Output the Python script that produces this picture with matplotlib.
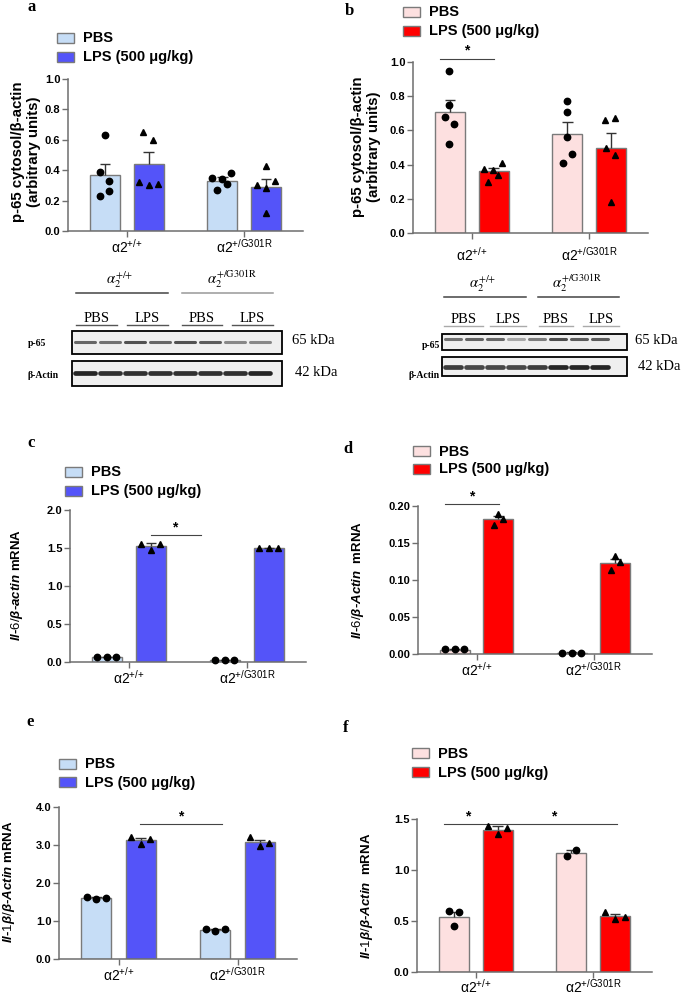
import numpy as np
import matplotlib
matplotlib.use('Agg')
import matplotlib.pyplot as plt
from matplotlib.patches import Rectangle
from matplotlib.ticker import FormatStrFormatter

plt.rcParams['font.family'] = ['Liberation Sans', 'DejaVu Sans']
plt.rcParams['mathtext.fontset'] = 'custom'
plt.rcParams['mathtext.rm'] = 'Liberation Sans'
plt.rcParams['mathtext.it'] = 'Liberation Sans:italic:bold'
plt.rcParams['mathtext.bf'] = 'Liberation Sans:bold'

# ---------------- data ----------------
genotypes = ['+/+', '+/G301R']
treatments = ['PBS', 'LPS (500 μg/kg)']

# a: p-65 cytosol / beta-actin
a_pbs = [0.37, 0.33]
a_pbs_sem = [0.07, 0.025]
a_lps = [0.44, 0.29]
a_lps_sem = [0.08, 0.05]
a_pbs_pts = [[0.63, 0.39, 0.33, 0.26, 0.23], [0.35, 0.34, 0.38, 0.31, 0.27]]
a_lps_pts = [[0.65, 0.60, 0.32, 0.30, 0.31], [0.43, 0.33, 0.30, 0.28, 0.12]]

# b: p-65 cytosol / beta-actin
b_pbs = [0.705, 0.58]
b_pbs_sem = [0.075, 0.07]
b_lps = [0.36, 0.495]
b_lps_sem = [0.02, 0.09]
b_pbs_pts = [[0.95, 0.75, 0.68, 0.64, 0.52], [0.77, 0.71, 0.56, 0.46, 0.41]]
b_lps_pts = [[0.375, 0.366, 0.412, 0.337, 0.296], [0.66, 0.673, 0.496, 0.455, 0.183]]

# c: Il-6 mRNA
c_pbs = [0.065, 0.025]
c_pbs_sem = [0.004, 0.003]
c_lps = [1.525, 1.50]
c_lps_sem = [0.035, 0.006]
c_pbs_pts = [[0.07, 0.07, 0.07], [0.03, 0.03, 0.03]]
c_lps_pts = [[1.55, 1.47, 1.55], [1.50, 1.50, 1.50]]

# d: Il-6 mRNA
d_pbs = [0.006, 0.002]
d_pbs_sem = [0.0005, 0.0002]
d_lps = [0.182, 0.1225]
d_lps_sem = [0.005, 0.0065]
d_pbs_pts = [[0.007, 0.007, 0.007], [0.002, 0.002, 0.002]]
d_lps_pts = [[0.175, 0.189, 0.182], [0.113, 0.132, 0.124]]

# e: Il-1b mRNA
e_pbs = [1.60, 0.77]
e_pbs_sem = [0.02, 0.012]
e_lps = [3.13, 3.07]
e_lps_sem = [0.06, 0.07]
e_pbs_pts = [[1.64, 1.58, 1.61], [0.79, 0.75, 0.78]]
e_lps_pts = [[3.22, 3.03, 3.16], [3.20, 2.97, 3.05]]

# f: Il-1b mRNA
f_pbs = [0.542, 1.167]
f_pbs_sem = [0.05, 0.033]
f_lps = [1.39, 0.546]
f_lps_sem = [0.04, 0.022]
f_pbs_pts = [[0.60, 0.59, 0.45], [1.14, 1.20]]
f_lps_pts = [[1.43, 1.35, 1.41], [0.59, 0.52, 0.54]]

# western blot band intensities (0 = blank, 1 = black), 8 lanes
a_p65_bands = [0.70, 0.65, 0.80, 0.70, 0.80, 0.75, 0.55, 0.55]
a_actin_bands = [0.95, 0.90, 0.90, 0.90, 0.90, 0.90, 0.90, 0.95]
b_p65_bands = [0.65, 0.72, 0.70, 0.40, 0.60, 0.82, 0.75, 0.75]
b_actin_bands = [0.85, 0.80, 0.80, 0.80, 0.85, 0.95, 0.95, 0.95]
lane_labels = ['PBS', 'LPS', 'PBS', 'LPS']

# ---------------- style / layout ----------------
W, H = 685, 994
BLUE_PBS, BLUE_LPS = '#c6ddf6', '#5454f9'
PINK_PBS, RED_LPS = '#fde0e0', '#ff0000'
EDGE = '#7a7a7a'
SPINE = '#6e6e6e'
BW, OFF = 0.254, 0.186
CAP = 0.045

J5 = {'a': ([[0, -0.042, 0.037, 0.037, -0.042], [-0.085, -0.006, 0.076, 0.04, -0.042]],
            [[-0.045, 0.037, -0.082, 0, 0.082], [0, 0.079, -0.079, 0, 0]]),
      'b': ([[-0.011, -0.006, -0.045, 0.037, -0.006], [0, -0.003, 0, 0.04, -0.04]],
            [[-0.085, -0.006, 0.074, 0.034, -0.045], [-0.048, 0.034, -0.045, 0.034, -0.003]])}
J3 = [-0.082, 0, 0.08]

fig = plt.figure(figsize=(W / 100, H / 100), dpi=100)
ov = fig.add_axes([0, 0, 1, 1], zorder=10)
ov.set_xlim(0, W)
ov.set_ylim(H, 0)
ov.axis('off')


def px_ax(left, top, right, bottom):
    return fig.add_axes([left / W, 1 - bottom / H, (right - left) / W, (bottom - top) / H])


def tick_lab(g):
    return r'$\mathrm{\alpha 2}^{\mathrm{' + g.replace('+', '{+}') + '}}$'


def bar_panel(box, ymax, ystep, fmt, pbs, pbs_sem, lps, lps_sem, pbs_pts, lps_pts,
              pbs_jit, lps_jit, c_pbs, c_lps, xpad=1):
    ax = px_ax(*box)
    x = np.arange(len(genotypes))
    series = [(-OFF, pbs, pbs_sem, pbs_pts, pbs_jit, c_pbs, 'o'),
              (OFF, lps, lps_sem, lps_pts, lps_jit, c_lps, '^')]
    for off, mean, sem, pts, jit, col, mk in series:
        xs = x + off
        top = np.array(mean) + np.array(sem)
        ax.bar(xs, mean, BW, color=col, edgecolor=EDGE, linewidth=1, zorder=2)
        ax.vlines(xs, mean, top, color='#333333', lw=1, zorder=3)
        ax.hlines(top, xs - CAP, xs + CAP, color='#333333', lw=1, zorder=3)
        for xi, p, j in zip(xs, pts, jit):
            ax.plot(xi + np.array(j[:len(p)]), p, mk, color='black', ms=4.6 if mk == 'o' else 5,
                    ls='none', zorder=4, clip_on=False)
    ax.set_xlim(-0.5, 1.5)
    ax.set_ylim(0, ymax)
    ax.set_yticks(np.arange(0, ymax + ystep / 2, ystep))
    ax.yaxis.set_major_formatter(FormatStrFormatter(fmt))
    ax.set_xticks(x)
    ax.set_xticklabels([tick_lab(g) for g in genotypes])
    for s in ['top', 'right']:
        ax.spines[s].set_visible(False)
    for s in ['left', 'bottom']:
        ax.spines[s].set_color(SPINE)
        ax.spines[s].set_linewidth(1.1)
    ax.tick_params(axis='y', length=4, width=1, color=SPINE, labelsize=8, pad=1.5)
    ax.tick_params(axis='x', length=4, width=1, color=SPINE, labelsize=10, pad=xpad)
    for lbl in ax.get_yticklabels():
        lbl.set_fontweight('bold')
    ax.set_facecolor('none')
    return ax


def sig(ax, x0, x1, y, stars):
    ax.plot([x0, x1], [y, y], color='#444444', lw=0.8, clip_on=False)
    for xs in stars:
        ax.annotate('*', (xs, y), xytext=(0, 0.5), textcoords='offset points', ha='center',
                    va='bottom', fontsize=10, fontweight='bold', annotation_clip=False)


def legend(x0, y0, pitch, cols):
    for i, (lab, col) in enumerate(zip(treatments, cols)):
        ov.add_patch(Rectangle((x0, y0 + i * pitch), 17, 10, facecolor=col, edgecolor=EDGE, lw=1))
        ov.text(x0 + 26, y0 + i * pitch + 5.5, lab, fontsize=10.5, fontweight='bold',
                ha='left', va='center')


def letter(x, y, s):
    ov.text(x, y, s, fontfamily='Liberation Serif', fontweight='bold', fontsize=12,
            ha='left', va='baseline')


def ylab(x, y, s, size=9.5):
    ov.text(x, y, s, rotation=90, fontsize=size, fontweight='bold', ha='center', va='center',
            linespacing=1.1)


def blot(x0, x1, p_box, a_box, lanes, bw, p_int, a_int, p_y, a_y, gen_x, gen_y, gen_lines,
         lane_segs, lane_y, under_y, under_col, lab_x, p_lab_y, a_lab_y, kda_x, kda_y, ha_lab):
    # genotype headers
    for gx, g in zip(gen_x, genotypes):
        ov.text(gx, gen_y, r'$\alpha_2^{' + g.replace('+', '{+}').replace('G301R', r'\mathrm{G301R}') + '}$',
                math_fontfamily='stix', fontsize=10.5, ha='center', va='baseline')
    for (lx0, lx1), col in gen_lines:
        ov.plot([lx0, lx1], [gen_y + 9, gen_y + 9], color=col, lw=1.1)
    for (sx0, sx1), lab in zip(lane_segs, lane_labels):
        ov.text((sx0 + sx1) / 2, lane_y, lab, fontfamily='Liberation Serif', fontsize=10.5,
                ha='center', va='baseline')
        ov.plot([sx0, sx1], [under_y, under_y], color=under_col, lw=1)
    for (by0, by1) in (p_box, a_box):
        ov.add_patch(Rectangle((x0, by0), x1 - x0, by1 - by0, facecolor='#efefef',
                               edgecolor='black', lw=1.3))
    for lx, pi, ai in zip(lanes, p_int, a_int):
        ov.plot([lx - bw / 2, lx + bw / 2], [p_y, p_y], color=str(1 - 0.85 * pi), lw=2.2,
                solid_capstyle='round')
        ov.plot([lx - bw / 2, lx + bw / 2], [a_y, a_y], color=str(1 - 0.9 * ai), lw=3.4,
                solid_capstyle='round')
    ov.text(lab_x, p_lab_y, 'p-65', fontfamily='Liberation Serif', fontweight='bold',
            fontsize=7, ha=ha_lab, va='center')
    ov.text(lab_x, a_lab_y, 'β-Actin', fontfamily='Liberation Serif', fontweight='bold',
            fontsize=7, ha=ha_lab, va='center')
    ov.text(kda_x[0], kda_y[0], '65 kDa', fontfamily='Liberation Serif', fontsize=10.5,
            ha='left', va='center')
    ov.text(kda_x[1], kda_y[1], '42 kDa', fontfamily='Liberation Serif', fontsize=10.5,
            ha='left', va='center')


# ---------------- panel a ----------------
letter(28, 11, 'a')
legend(57, 33, 19, [BLUE_PBS, BLUE_LPS])
bar_panel((68, 79, 303, 231), 1.0, 0.2, '%.1f', a_pbs, a_pbs_sem, a_lps, a_lps_sem,
          a_pbs_pts, a_lps_pts, J5['a'][0], J5['a'][1], BLUE_PBS, BLUE_LPS)
ylab(26, 152, 'p-65 cytosol/β-actin\n(arbitrary units)', 10.8)
blot(72, 282, (331, 354), (361, 386), np.linspace(85, 260, 8), 20, a_p65_bands, a_actin_bands,
     342, 373, [120, 232], 284, [((76, 168), '#444444'), ((182, 273), '#999999')],
     [(76, 117), (127, 168), (182, 222), (232, 273)], 322, 325, '#555555',
     28, 343, 376, (292, 295), (340, 373), 'left')

# ---------------- panel b ----------------
letter(345, 15, 'b')
legend(403, 7, 19, [PINK_PBS, RED_LPS])
axb = bar_panel((413, 62, 648, 233), 1.0, 0.2, '%.1f', b_pbs, b_pbs_sem, b_lps, b_lps_sem,
                b_pbs_pts, b_lps_pts, J5['b'][0], J5['b'][1], PINK_PBS, RED_LPS, xpad=5)
sig(axb, -0.27, 0.19, 1.02, [-0.04])
ylab(366, 147, 'p-65 cytosol/β-actin\n(arbitrary units)', 10.8)
blot(442, 627, (334, 350), (357, 376), np.linspace(453, 600, 8), 16, b_p65_bands, b_actin_bands,
     339, 367, [483, 577], 288, [((444, 526), '#444444'), ((538, 619), '#444444')],
     [(444, 483), (490, 526), (539, 573), (583, 619)], 323, 326, '#aaaaaa',
     440, 345, 375, (635, 638), (340, 367), 'right')

# ---------------- panel c ----------------
letter(27, 447, 'c')
legend(65, 467, 19, [BLUE_PBS, BLUE_LPS])
axc = bar_panel((70, 510, 306, 662), 2.0, 0.5, '%.1f', c_pbs, c_pbs_sem, c_lps, c_lps_sem,
                c_pbs_pts, c_lps_pts, [J3, J3], [J3, J3], BLUE_PBS, BLUE_LPS)
sig(axc, 0.19, 0.61, 1.67, [0.39])
ylab(17, 585, r'$\mathit{Il}$-$\mathit{6/\beta}$-$\mathit{actin}$ mRNA')

# ---------------- panel d ----------------
letter(343, 453, 'd')
legend(413, 446, 18, [PINK_PBS, RED_LPS])
axd = bar_panel((418, 506, 652, 654), 0.20, 0.05, '%.2f', d_pbs, d_pbs_sem, d_lps, d_lps_sem,
                d_pbs_pts, d_lps_pts, [J3, J3], [[-0.04, 0, 0.04], [-0.037, 0, 0.042]],
                PINK_PBS, RED_LPS)
sig(axd, -0.27, 0.19, 0.203, [-0.04])
ylab(358, 580, r'$\mathit{Il}$-$\mathit{6/\beta}$-$\mathit{Actin}$  mRNA')

# ---------------- panel e ----------------
letter(26, 726, 'e')
legend(59, 759, 18, [BLUE_PBS, BLUE_LPS])
axe = bar_panel((59, 807, 297, 959), 4.0, 1.0, '%.1f', e_pbs, e_pbs_sem, e_lps, e_lps_sem,
                e_pbs_pts, e_lps_pts, [J3, J3], [J3, J3], BLUE_PBS, BLUE_LPS)
sig(axe, 0.18, 0.87, 3.55, [0.52])
ylab(9, 882, r'$\mathit{Il}$-$\mathit{1\beta/\beta}$-$\mathit{Actin}$ mRNA')

# ---------------- panel f ----------------
letter(343, 732, 'f')
legend(412, 748, 19, [PINK_PBS, RED_LPS])
axf = bar_panel((417, 819, 652, 972), 1.5, 0.5, '%.1f', f_pbs, f_pbs_sem, f_lps, f_lps_sem,
                f_pbs_pts, f_lps_pts, [[-0.04, 0.04, 0], [-0.04, 0.04]], [J3, J3],
                PINK_PBS, RED_LPS, xpad=0)
sig(axf, -0.27, 1.2, 1.454, [-0.07, 0.66])
ylab(367, 896, r'$\mathit{Il}$-$\mathit{1\beta/\beta}$-$\mathit{Actin}$  mRNA')

fig.savefig('out.png', dpi=100)
